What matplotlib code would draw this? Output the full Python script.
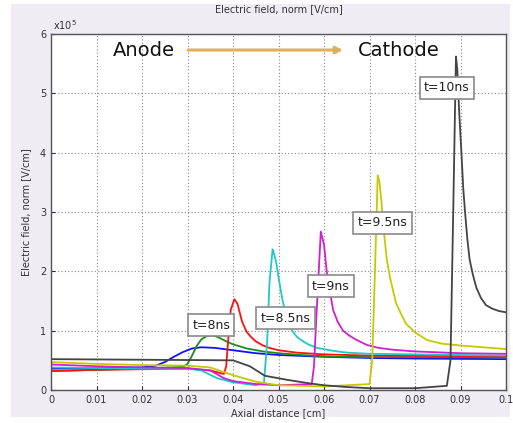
import matplotlib
matplotlib.use("Agg")
import matplotlib.pyplot as plt
from matplotlib.patches import Rectangle

# ---- data (x in cm, field in units of 1e5 V/cm) ----
blue_x = [0, 0.01, 0.02, 0.023, 0.025, 0.027, 0.029, 0.031, 0.033, 0.036, 0.040, 0.045, 0.05, 0.06, 0.07, 0.08, 0.1]
blue_y = [0.36, 0.37, 0.38, 0.41, 0.47, 0.56, 0.64, 0.70, 0.72, 0.71, 0.67, 0.62, 0.59, 0.56, 0.54, 0.53, 0.52]

green_x = [0, 0.01, 0.02, 0.029, 0.030, 0.031, 0.032, 0.033, 0.034, 0.035, 0.036, 0.037, 0.0385, 0.040, 0.043, 0.0466, 0.05, 0.055, 0.062, 0.07, 0.1]
green_y = [0.32, 0.34, 0.36, 0.39, 0.44, 0.58, 0.74, 0.85, 0.90, 0.92, 0.91, 0.88, 0.82, 0.77, 0.70, 0.65, 0.62, 0.59, 0.56, 0.555, 0.55]

red_x = [0, 0.01, 0.02, 0.03, 0.035, 0.038, 0.0385, 0.039, 0.0395, 0.0403, 0.041, 0.0415, 0.042, 0.043, 0.044, 0.045, 0.0466, 0.048, 0.05, 0.054, 0.06, 0.07, 0.08, 0.1]
red_y = [0.32, 0.34, 0.35, 0.36, 0.33, 0.27, 0.4, 0.9, 1.35, 1.53, 1.45, 1.3, 1.15, 0.98, 0.89, 0.82, 0.75, 0.71, 0.67, 0.63, 0.6, 0.58, 0.575, 0.57]

cyan_x = [0, 0.01, 0.02, 0.03, 0.033, 0.0365, 0.04, 0.045, 0.0468, 0.0475, 0.048, 0.0487, 0.049, 0.0495, 0.050, 0.0508, 0.0515, 0.0522, 0.053, 0.054, 0.055, 0.0565, 0.0584, 0.062, 0.065, 0.07, 0.1]
cyan_y = [0.38, 0.37, 0.36, 0.36, 0.33, 0.2, 0.13, 0.08, 0.12, 0.8, 1.8, 2.37, 2.3, 2.15, 1.9, 1.55, 1.3, 1.12, 1.0, 0.9, 0.84, 0.77, 0.71, 0.66, 0.63, 0.61, 0.58]

magenta_x = [0, 0.01, 0.02, 0.03, 0.035, 0.038, 0.04, 0.045, 0.05, 0.0573, 0.0578, 0.0585, 0.0593, 0.0600, 0.0606, 0.0612, 0.062, 0.063, 0.0642, 0.0655, 0.067, 0.0694, 0.072, 0.075, 0.08, 0.09, 0.1]
magenta_y = [0.43, 0.40, 0.38, 0.37, 0.33, 0.2, 0.15, 0.1, 0.08, 0.1, 0.4, 1.5, 2.67, 2.45, 2.0, 1.7, 1.35, 1.15, 1.0, 0.92, 0.85, 0.76, 0.71, 0.68, 0.65, 0.62, 0.61]

yellow_x = [0, 0.01, 0.02, 0.03, 0.035, 0.04, 0.045, 0.05, 0.06, 0.07, 0.0706, 0.0712, 0.0718, 0.0722, 0.0726, 0.073, 0.0738, 0.0745, 0.0758, 0.077, 0.078, 0.08, 0.0827, 0.086, 0.09, 0.1]
yellow_y = [0.47, 0.44, 0.42, 0.41, 0.38, 0.25, 0.14, 0.08, 0.06, 0.1, 0.5, 2.0, 3.62, 3.5, 3.2, 2.8, 2.2, 1.9, 1.47, 1.27, 1.12, 0.97, 0.84, 0.78, 0.75, 0.69]

black_x = [0, 0.02, 0.04, 0.0437, 0.047, 0.052, 0.057, 0.06, 0.065, 0.07, 0.08, 0.087, 0.0878, 0.0884, 0.089, 0.0893, 0.0897, 0.0902, 0.0906, 0.091, 0.0915, 0.092, 0.0927, 0.0935, 0.0945, 0.0956, 0.097, 0.0985, 0.1]
black_y = [0.52, 0.51, 0.50, 0.40, 0.24, 0.17, 0.11, 0.08, 0.05, 0.03, 0.03, 0.07, 0.5, 3.0, 5.62, 5.4, 4.7, 4.0, 3.4, 3.0, 2.55, 2.2, 1.95, 1.72, 1.55, 1.43, 1.37, 1.33, 1.31]

curves = [
    (blue_x, blue_y, "#1010ff"),
    (green_x, green_y, "#1c8c1c"),
    (red_x, red_y, "#ff1010"),
    (cyan_x, cyan_y, "#20c8c8"),
    (magenta_x, magenta_y, "#d020d0"),
    (yellow_x, yellow_y, "#c8c800"),
    (black_x, black_y, "#444444"),
]

labels = ["t=8ns", "t=8.5ns", "t=9ns", "t=9.5ns", "t=10ns"]
label_x = [0.0352, 0.0515, 0.0615, 0.0729, 0.0870]
label_y = [1.09, 1.21, 1.75, 2.82, 5.09]

x_ticks = [0, 0.01, 0.02, 0.03, 0.04, 0.05, 0.06, 0.07, 0.08, 0.09, 0.1]
x_tick_labels = ["0", "0.01", "0.02", "0.03", "0.04", "0.05", "0.06", "0.07", "0.08", "0.09", "0.1"]
y_ticks = [0, 1, 2, 3, 4, 5, 6]

W, H = 513, 423
fig = plt.figure(figsize=(W / 100, H / 100), dpi=100)
fig.patch.set_facecolor("white")
fig.patches.append(Rectangle((11 / W, 1 - 417 / H), (510 - 11) / W, (417 - 4) / H,
                             transform=fig.transFigure, facecolor="#efecf3",
                             edgecolor="none", zorder=-10))

ax = fig.add_axes([51 / W, 1 - 390 / H, (506 - 51) / W, (390 - 34) / H])
ax.set_facecolor("white")

for xs, ys, c in curves:
    ax.plot(xs, ys, color=c, lw=1.3, solid_joinstyle="round")

ax.set_xlim(0, 0.1)
ax.set_ylim(0, 6)
ax.set_xticks(x_ticks)
ax.set_xticklabels(x_tick_labels)
ax.set_yticks(y_ticks)
ax.tick_params(direction="in", labelsize=7, length=3, colors="#333333")
ax.grid(True, linestyle=(0, (1, 2)), color="#888888", lw=0.8)
for s in ax.spines.values():
    s.set_color("#555555")
    s.set_linewidth(1.0)

ax.set_xlabel("Axial distance [cm]", fontsize=7, labelpad=2, color="#333333")
ax.set_ylabel("Electric field, norm [V/cm]", fontsize=7, labelpad=6, color="#333333")
ax.set_title("Electric field, norm [V/cm]", fontsize=7, pad=16, color="#333333")
ax.text(0.005, 1.005, r"x10$^5$", transform=ax.transAxes, fontsize=7,
        color="#333333", ha="left", va="bottom")

ax.text(0.0136, 5.73, "Anode", fontsize=14, ha="left", va="center", color="#111111")
ax.text(0.0675, 5.73, "Cathode", fontsize=14, ha="left", va="center", color="#111111")
ax.annotate("", xy=(0.0648, 5.73), xytext=(0.0295, 5.73),
            arrowprops=dict(arrowstyle="-|>", color="#ddb060", lw=2.2,
                            mutation_scale=10))

for t, lx, ly in zip(labels, label_x, label_y):
    ax.text(lx, ly, t, fontsize=9, ha="center", va="center", color="#222222",
            bbox=dict(boxstyle="square,pad=0.35", facecolor="white",
                      edgecolor="#8a8a8a", lw=1.2), zorder=5)

fig.savefig("out.png", dpi=100, facecolor=fig.get_facecolor())
